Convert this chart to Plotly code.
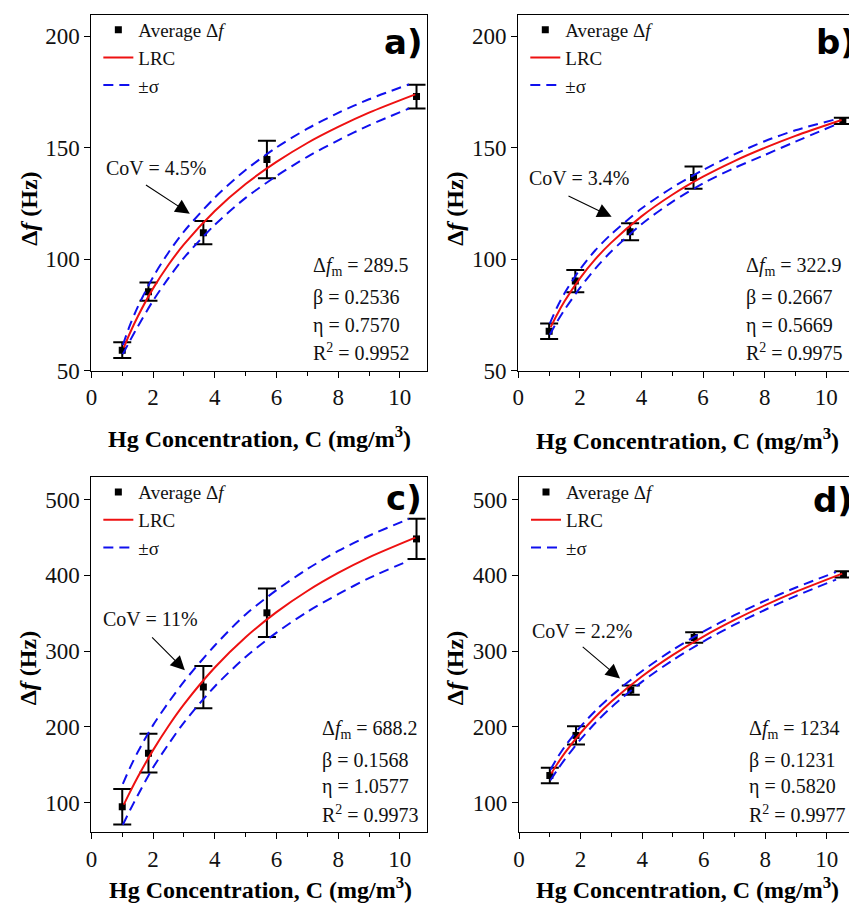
import plotly.graph_objects as go

W, H = 849, 915

# ---------------- data ----------------
conc = [1.0, 1.85, 3.63, 5.69, 10.54]

a_mean = [59.2, 85.4, 111.9, 144.7, 172.9]
a_err = [3.5, 4.1, 5.2, 8.4, 5.3]
b_mean = [67.7, 90.2, 112.3, 136.6, 162.0]
b_err = [3.5, 5.0, 3.8, 5.0, 1.4]
c_mean = [94.8, 165.4, 252.5, 350.5, 448.0]
c_err = [23.4, 25.5, 28.0, 32.0, 26.5]
d_mean = [135.9, 188.8, 248.6, 318.0, 401.2]
d_err = [10.2, 12.0, 6.0, 7.0, 4.0]

lrc_x = [1.05, 1.25, 1.5, 2, 2.5, 3, 4, 5, 6, 7, 8, 9, 10.5]
a_lrc = [60.3, 66.9, 74.2, 86.9, 97.5, 106.6, 121.6, 133.7, 143.6, 152.1, 159.3, 165.7, 173.9]
b_lrc = [69.5, 75.0, 81.1, 91.4, 100.0, 107.2, 119.2, 128.9, 137.0, 143.9, 149.9, 155.3, 162.4]
c_lrc = [97.5, 114.0, 133.6, 169.4, 201.3, 229.8, 278.4, 318.3, 351.4, 379.3, 403.1, 423.7, 449.7]
d_lrc = [138.7, 151.7, 166.4, 192.0, 214.1, 233.5, 266.8, 295.0, 319.5, 341.1, 360.6, 378.4, 402.3]

sig_x = [1.02, 1.25, 1.5, 2, 2.5, 3, 4, 5, 6, 7, 8, 9, 10.3]
a_up = [61.5, 70.4, 78.5, 92.0, 103.0, 112.4, 127.6, 140.0, 150.1, 158.5, 165.6, 171.7, 178.4]
a_lo = [57.4, 63.4, 69.7, 81.4, 91.5, 100.6, 115.4, 127.5, 137.3, 145.9, 153.3, 160.0, 167.6]
b_up = [71.1, 78.2, 84.7, 95.4, 104.0, 111.0, 122.7, 132.1, 140.0, 146.9, 152.9, 157.8, 162.7]
b_lo = [66.1, 71.8, 77.3, 87.1, 95.8, 103.2, 115.7, 125.7, 134.0, 140.8, 146.7, 152.7, 160.3]
c_up = [125.0, 146.0, 166.6, 202.4, 232.3, 259.8, 307.4, 348.3, 380.4, 408.3, 432.1, 452.2, 474.5]
c_lo = [71.0, 90.0, 109.6, 146.4, 177.3, 205.8, 253.4, 292.3, 324.4, 351.8, 375.1, 396.2, 419.5]
d_up = [143.6, 159.7, 174.9, 200.5, 222.1, 241.0, 273.8, 301.8, 326.0, 347.4, 366.6, 383.9, 404.3]
d_lo = [129.6, 143.7, 157.9, 183.5, 206.1, 226.0, 259.8, 288.2, 313.0, 334.8, 354.6, 372.9, 394.3]

panel_letters = ["a)", "b)", "c)", "d)"]
cov_labels = ["CoV = 4.5%", "CoV = 3.4%", "CoV = 11%", "CoV = 2.2%"]
df_m = ["289.5", "322.9", "688.2", "1234"]
beta = ["0.2536", "0.2667", "0.1568", "0.1231"]
eta = ["0.7570", "0.5669", "1.0577", "0.5820"]
r2 = ["0.9952", "0.9975", "0.9973", "0.9977"]

x_tick_vals = [0, 2, 4, 6, 8, 10]
y_ticks_top = [50, 100, 150, 200]
y_ticks_bot = [100, 200, 300, 400, 500]

SERIF = "Liberation Serif"

# ---------------- geometry (page pixels) ----------------
# (left, right, top, bottom, xmax, yrange)
panels = [
    (86, 424, 15, 376, 10.88, [50, 209.6]),
    (516, 849, 15, 376, 10.74, [50, 209.6]),
    (86, 424, 484, 844, 10.88, [61.4, 529.5]),
    (516.7, 849, 484, 844, 10.72, [61.4, 529.5]),
]
means = [a_mean, b_mean, c_mean, d_mean]
errs = [a_err, b_err, c_err, d_err]
lrcs = [a_lrc, b_lrc, c_lrc, d_lrc]
ups = [a_up, b_up, c_up, d_up]
los = [a_lo, b_lo, c_lo, d_lo]


def px(x):
    return x / W


def py(y):
    return 1 - y / H


fig = go.Figure()
annotations = []
layout = {}

for i, (l, r, t, b, xmax, yr) in enumerate(panels):
    n = "" if i == 0 else str(i + 1)
    xa, ya = "x" + n, "y" + n
    leg = "legend" + n
    fig.add_trace(go.Scatter(
        x=conc, y=means[i], mode="markers", name="Average Δ<i>f</i>",
        marker=dict(symbol="square", size=7, color="black"),
        error_y=dict(type="data", array=errs[i], color="black", thickness=2, width=9),
        xaxis=xa, yaxis=ya, legend=leg, showlegend=True))
    fig.add_trace(go.Scatter(
        x=lrc_x, y=lrcs[i], mode="lines", name="LRC",
        line=dict(color="#ee1111", width=2, shape="spline", smoothing=0.8),
        xaxis=xa, yaxis=ya, legend=leg))
    fig.add_trace(go.Scatter(
        x=sig_x, y=ups[i], mode="lines", name="±σ", legendgroup="sig" + n,
        line=dict(color="#1010ee", width=2, dash="10px,6px", shape="spline", smoothing=0.8),
        xaxis=xa, yaxis=ya, legend=leg))
    fig.add_trace(go.Scatter(
        x=sig_x, y=los[i], mode="lines", name="±σ", legendgroup="sig" + n, showlegend=False,
        line=dict(color="#1010ee", width=2, dash="10px,6px", shape="spline", smoothing=0.8),
        xaxis=xa, yaxis=ya, legend=leg))

    common = dict(showline=True, linecolor="black", linewidth=1.3, ticks="outside",
                  ticklen=6, tickwidth=1.3, tickcolor="black", showgrid=False,
                  zeroline=False, tickfont=dict(family=SERIF, size=23, color="#111"))
    layout["xaxis" + n] = dict(common, domain=[px(l), min(1.0, px(r))], range=[0, xmax],
                               anchor=ya, tickvals=x_tick_vals, mirror=True,
                               minor=dict(ticks="outside", ticklen=4, tickwidth=1.3,
                                          tickcolor="black", dtick=1, tick0=0,
                                          showgrid=False))
    layout["yaxis" + n] = dict(common, domain=[py(b), py(t)], range=yr, anchor=xa,
                               tickvals=(y_ticks_top if i < 2 else y_ticks_bot),
                               mirror=(i in (0, 2)))
    layout[leg] = dict(x=px(l + 7), y=py(t - 4), xanchor="left", yanchor="top",
                       bgcolor="rgba(0,0,0,0)", tracegroupgap=0,
                       font=dict(family=SERIF, size=19, color="#111"))

# panel letters
letter_pos = [(421, 43, "right"), (814, 43, "left"), (421, 505, "right"), (811, 507, "left")]
for i, (x, y, anc) in enumerate(letter_pos):
    annotations.append(dict(text="<b>" + panel_letters[i] + "</b>", x=px(x), y=py(y),
                            xref="paper", yref="paper", xanchor=anc, yanchor="middle",
                            showarrow=False,
                            font=dict(family="DejaVu Sans", size=34, color="black")))

# parameter blocks
param_pos = [(307, [270, 302, 330, 357]), (743, [270, 302, 330, 357]),
             (316, [740, 771, 798, 826]), (746, [740, 771, 798, 826])]
for i, (x0, ys) in enumerate(param_pos):
    lines = ["Δ<i>f</i><sub>m</sub> = " + df_m[i], "β = " + beta[i],
             "η = " + eta[i], "R<sup>2</sup> = " + r2[i]]
    for txt, yy in zip(lines, ys):
        annotations.append(dict(text=txt, x=px(x0), y=py(yy), xref="paper", yref="paper",
                                xanchor="left", yanchor="middle", showarrow=False,
                                font=dict(family=SERIF, size=20, color="#111")))

# CoV annotations: text centre, arrow tail, arrow tip (data units)
cov_geo = [((2.09, 140.8), (1.72, 133.7), (3.19, 120.4)),
           ((1.98, 136.6), (1.58, 128.6), (3.03, 119.0)),
           ((1.91, 341.9), (1.92, 320.2), (3.03, 274.6)),
           ((2.05, 326.6), (2.02, 307.2), (3.28, 263.9))]
for i, (tc, tail, tip) in enumerate(cov_geo):
    n = "" if i == 0 else str(i + 1)
    xa, ya = "x" + n, "y" + n
    annotations.append(dict(text=cov_labels[i], x=tc[0], y=tc[1], xref=xa, yref=ya,
                            showarrow=False, xanchor="center", yanchor="middle",
                            font=dict(family=SERIF, size=20, color="#111")))
    annotations.append(dict(text="", x=tip[0], y=tip[1], ax=tail[0], ay=tail[1],
                            xref=xa, yref=ya, axref=xa, ayref=ya, showarrow=True,
                            arrowhead=2, arrowsize=2.6, arrowwidth=1.1, arrowcolor="black"))

# axis titles
ytitle_pos = [(23, 212), (452, 212), (23, 678), (453, 678)]
xtitle_pos = [(255, 443), (686, 445), (256, 901), (686, 901)]
for (x, y) in ytitle_pos:
    annotations.append(dict(text="<b>Δ<i>f</i> (Hz)</b>", x=px(x), y=py(y), xref="paper",
                            yref="paper", textangle=-90, showarrow=False,
                            xanchor="center", yanchor="middle",
                            font=dict(family=SERIF, size=24, color="black")))
for (x, y) in xtitle_pos:
    annotations.append(dict(text="<b>Hg Concentration, C (mg/m<sup>3</sup>)</b>", x=px(x),
                            y=py(y), xref="paper", yref="paper", showarrow=False,
                            xanchor="center", yanchor="middle",
                            font=dict(family=SERIF, size=24, color="black")))

fig.update_layout(width=W, height=H, margin=dict(l=0, r=0, t=0, b=0),
                  paper_bgcolor="white", plot_bgcolor="white",
                  font=dict(family=SERIF, color="#111"),
                  annotations=annotations, **layout)

# remove the browser's default 8px body margin so the figure fills the window exactly
fig.write_html("out.html", config={"displayModeBar": False},
               post_script="document.body.style.margin='0';document.body.style.overflow='hidden';")
